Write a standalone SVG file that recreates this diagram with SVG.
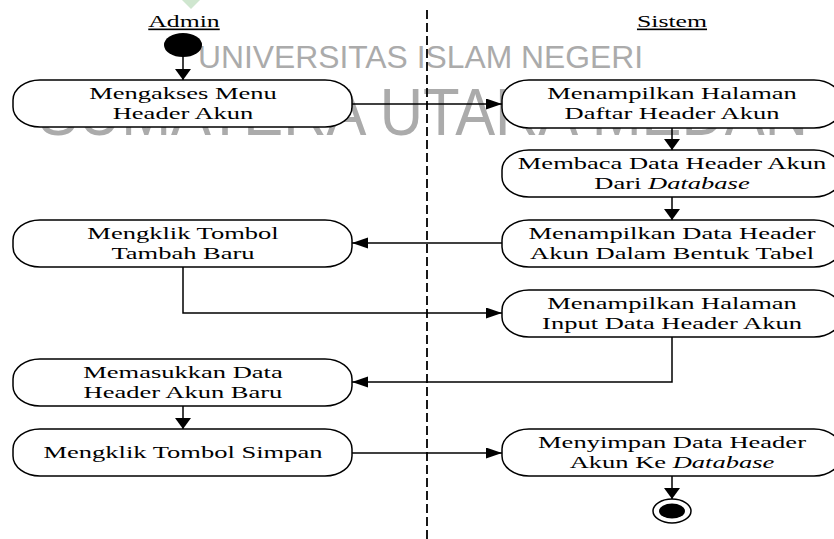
<svg xmlns="http://www.w3.org/2000/svg" width="834" height="539" viewBox="0 0 834 539">
<style>
.wm{font-family:"Liberation Sans",Arial,sans-serif;fill:#ababab}
.box{fill:#fff;stroke:#000;stroke-width:1.5}
.t{font-family:"Liberation Serif","Times New Roman",serif;font-size:17px;fill:#000;text-anchor:middle}
.hd{font-family:"Liberation Serif","Times New Roman",serif;font-size:16.5px;fill:#000;text-anchor:middle;text-decoration:underline}
.ln{fill:none;stroke:#000;stroke-width:1.5}
.ah{marker-end:url(#ah)}
.av{marker-end:url(#av)}
</style>
<defs>
<marker id="ah" markerUnits="userSpaceOnUse" markerWidth="18" markerHeight="12" refX="16" refY="5.5" orient="auto"><path d="M0,0 L16,5.5 L0,11 Z" fill="#000"/></marker>
<marker id="av" markerUnits="userSpaceOnUse" markerWidth="12" markerHeight="18" refX="11" refY="8" orient="auto"><path d="M0,0 L11,8 L0,16 Z" fill="#000"/></marker>
</defs>
<rect width="834" height="539" fill="#fff"/>
<g id="watermark">
<polygon points="182,0 200,0 191,9" fill="#cfe6cf"/>
<text class="wm" x="198" y="68" font-size="31" textLength="445" lengthAdjust="spacingAndGlyphs">UNIVERSITAS ISLAM NEGERI</text>
<text class="wm" x="38" y="135" font-size="66" textLength="770" lengthAdjust="spacingAndGlyphs">SUMATERA UTARA MEDAN</text>
</g>
<g id="lanes">
<line x1="427" y1="10" x2="427" y2="539" stroke="#000" stroke-width="1.8" stroke-dasharray="9 4"/>
<text class="hd" transform="translate(184 0) scale(1.56 1)" x="0" y="27">Admin</text>
<text class="hd" transform="translate(672 0) scale(1.56 1)" x="0" y="27">Sistem</text>
</g>
<g id="connectors">
<path class="ln av" d="M183,57 V80"/>
<path class="ln ah" d="M352,104 H502"/>
<path class="ln av" d="M672,128 V150"/>
<path class="ln av" d="M672,197 V220"/>
<path class="ln ah" d="M502,243 H352"/>
<path class="ln ah" d="M183,267 V313 H502"/>
<path class="ln ah" d="M672,337 V382 H352"/>
<path class="ln av" d="M183,406 V429"/>
<path class="ln ah" d="M352,453 H502"/>
<path class="ln av" d="M672,476 V499"/>
</g>
<g id="start"><ellipse cx="183" cy="45" rx="19" ry="12" fill="#000"/></g>
<g id="n1"><rect class="box" x="13" y="80" width="339" height="47" rx="27" ry="20"/>
<text class="t" transform="translate(183 0) scale(1.56 1)"><tspan x="0" y="99">Mengakses Menu</tspan><tspan x="0" y="119">Header Akun</tspan></text></g>
<g id="n2"><rect class="box" x="502" y="80" width="339" height="48" rx="27" ry="20"/>
<text class="t" transform="translate(672 0) scale(1.56 1)"><tspan x="0" y="99">Menampilkan Halaman</tspan><tspan x="0" y="119">Daftar Header Akun</tspan></text></g>
<g id="n3"><rect class="box" x="502" y="150" width="339" height="47" rx="27" ry="20"/>
<text class="t" transform="translate(672 0) scale(1.56 1)"><tspan x="0" y="169">Membaca Data Header Akun</tspan><tspan x="0" y="189">Dari <tspan font-style="italic">Database</tspan></tspan></text></g>
<g id="n4"><rect class="box" x="502" y="220" width="339" height="47" rx="27" ry="20"/>
<text class="t" transform="translate(672 0) scale(1.56 1)"><tspan x="0" y="239">Menampilkan Data Header</tspan><tspan x="0" y="259">Akun Dalam Bentuk Tabel</tspan></text></g>
<g id="n5"><rect class="box" x="13" y="220" width="339" height="47" rx="27" ry="20"/>
<text class="t" transform="translate(183 0) scale(1.56 1)"><tspan x="0" y="239">Mengklik Tombol</tspan><tspan x="0" y="259">Tambah Baru</tspan></text></g>
<g id="n6"><rect class="box" x="502" y="290" width="339" height="47" rx="27" ry="20"/>
<text class="t" transform="translate(672 0) scale(1.56 1)"><tspan x="0" y="309">Menampilkan Halaman</tspan><tspan x="0" y="329">Input Data Header Akun</tspan></text></g>
<g id="n7"><rect class="box" x="13" y="359" width="339" height="47" rx="27" ry="20"/>
<text class="t" transform="translate(183 0) scale(1.56 1)"><tspan x="0" y="378">Memasukkan Data</tspan><tspan x="0" y="398">Header Akun Baru</tspan></text></g>
<g id="n8"><rect class="box" x="13" y="429" width="339" height="47" rx="27" ry="20"/>
<text class="t" transform="translate(183 0) scale(1.56 1)"><tspan x="0" y="458">Mengklik Tombol Simpan</tspan></text></g>
<g id="n9"><rect class="box" x="502" y="429" width="339" height="47" rx="27" ry="20"/>
<text class="t" transform="translate(672 0) scale(1.56 1)"><tspan x="0" y="448">Menyimpan Data Header</tspan><tspan x="0" y="468">Akun Ke <tspan font-style="italic">Database</tspan></tspan></text></g>
<g id="end"><ellipse cx="672" cy="511" rx="19" ry="12" fill="#fff" stroke="#000" stroke-width="1.5"/><ellipse cx="672" cy="511" rx="13" ry="7.5" fill="#000"/></g>
</svg>
